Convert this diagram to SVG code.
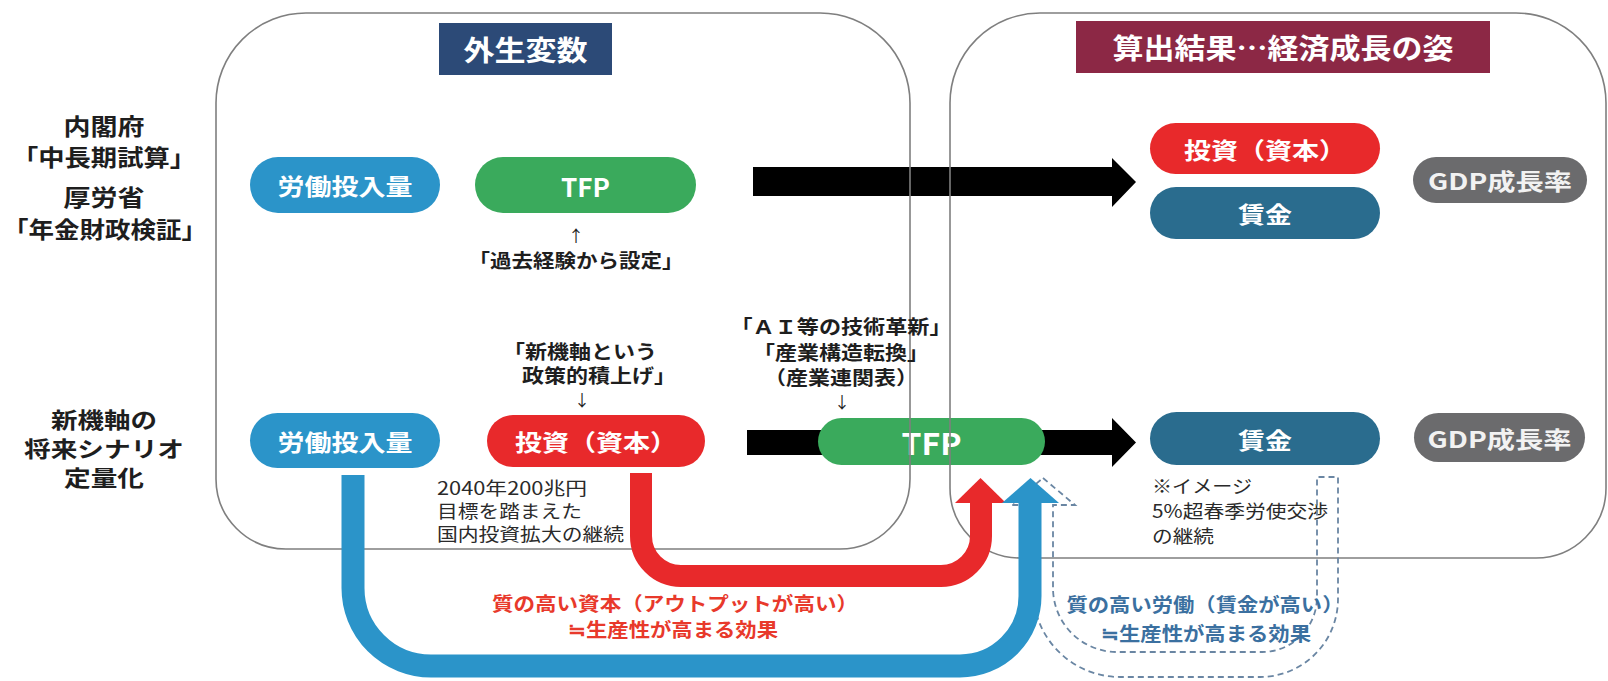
<svg xmlns="http://www.w3.org/2000/svg" width="1608" height="681" viewBox="0 0 1608 681">
<style>
text{font-family:"Noto Sans CJK JP","Noto Sans",sans-serif;dominant-baseline:central;text-anchor:middle}
.b{font-weight:700}
.lbl{font-size:23px;font-weight:700;fill:#1e1e1e}
.pill{font-size:23px;font-weight:700;fill:#fff}
.ann{font-size:19px;font-weight:700;fill:#1e1e1e}
.arr{font-size:16px;font-weight:400;fill:#1e1e1e}
.note{font-size:18px;font-weight:400;fill:#2a2a2a;text-anchor:start}
.cont{fill:none;stroke:#7f7f7f;stroke-width:1.6}
.lb{fill:#2b94c9}.gr{fill:#3aaa5c}.rd{fill:#e8292b}.tl{fill:#2a6c8e}.gy{fill:#6b6b6d}
</style>
<rect width="1608" height="681" fill="#fff"/>

<g id="left-labels">
<text class="lbl" x="104" y="125" textLength="81" lengthAdjust="spacingAndGlyphs">内閣府</text>
<text class="lbl" x="104" y="156" textLength="184" lengthAdjust="spacingAndGlyphs">「中長期試算」</text>
<text class="lbl" x="104" y="196" textLength="81" lengthAdjust="spacingAndGlyphs">厚労省</text>
<text class="lbl" x="105" y="228" textLength="204" lengthAdjust="spacingAndGlyphs">「年金財政検証」</text>
<text class="lbl" x="104" y="418" style="font-size:22px" textLength="106" lengthAdjust="spacingAndGlyphs">新機軸の</text>
<text class="lbl" x="104" y="447" style="font-size:22px" textLength="160" lengthAdjust="spacingAndGlyphs">将来シナリオ</text>
<text class="lbl" x="104" y="476" style="font-size:22px" textLength="80" lengthAdjust="spacingAndGlyphs">定量化</text>
</g>

<g id="connectors-black">
<polygon points="753,167 1112,167 1112,158 1136,182 1112,207 1112,196 753,196" fill="#000"/>
<polygon points="747,430 1112,430 1112,418 1136,442.5 1112,467 1112,455 747,455" fill="#000"/>
</g>

<g id="top-labour"><rect x="250" y="157" width="190" height="56" rx="28" class="lb"/><text class="pill" x="345" y="185" textLength="135" lengthAdjust="spacingAndGlyphs">労働投入量</text></g>
<g id="top-tfp"><rect x="475" y="157" width="221" height="56" rx="28" class="gr"/><text class="pill" x="585.5" y="185" style="font-size:26px" textLength="49" lengthAdjust="spacingAndGlyphs">TFP</text></g>
<g id="top-invest-r"><rect x="1150" y="123" width="230" height="51" rx="25.5" class="rd"/><text class="pill" x="1265" y="148.5" textLength="162" lengthAdjust="spacingAndGlyphs">投資（資本）</text></g>
<g id="top-wage"><rect x="1150" y="187" width="230" height="52" rx="26" class="tl"/><text class="pill" x="1265" y="213" textLength="54" lengthAdjust="spacingAndGlyphs">賃金</text></g>
<g id="top-gdp"><rect x="1413" y="157" width="174" height="46" rx="23" class="gy"/><text class="pill" x="1500" y="180" style="fill:#f2f2f2" textLength="144" lengthAdjust="spacingAndGlyphs">GDP成長率</text></g>

<g id="bot-labour"><rect x="250" y="413" width="190" height="55" rx="27.5" class="lb"/><text class="pill" x="345" y="440.5" textLength="135" lengthAdjust="spacingAndGlyphs">労働投入量</text></g>
<g id="bot-invest"><rect x="487" y="415" width="218" height="52" rx="26" class="rd"/><text class="pill" x="596" y="441" textLength="162" lengthAdjust="spacingAndGlyphs">投資（資本）</text></g>
<g id="bot-tfp"><rect x="818" y="418" width="227" height="47" rx="23.5" class="gr"/><text class="pill" x="931.5" y="441.5" style="font-size:30px" textLength="60" lengthAdjust="spacingAndGlyphs">TFP</text></g>
<g id="bot-wage"><rect x="1150" y="412" width="230" height="53" rx="26.5" class="tl"/><text class="pill" x="1265" y="438.5" textLength="54" lengthAdjust="spacingAndGlyphs">賃金</text></g>
<g id="bot-gdp"><rect x="1414" y="413" width="171" height="49" rx="24.5" class="gy"/><text class="pill" x="1499.5" y="437.5" style="fill:#f2f2f2" textLength="144" lengthAdjust="spacingAndGlyphs">GDP成長率</text></g>

<g id="containers">
<path class="cont" d="M306,13 H820 A90,90 0 0 1 910,103 V479 A70,70 0 0 1 840,549 H286 A70,70 0 0 1 216,479 V103 A90,90 0 0 1 306,13 Z"/>
<path class="cont" d="M1040,13 H1516 A90,90 0 0 1 1606,103 V488 A70,70 0 0 1 1536,558 H1020 A70,70 0 0 1 950,488 V103 A90,90 0 0 1 1040,13 Z"/>
</g>

<g id="header-exo"><rect x="439" y="23" width="173" height="52" fill="#2c4a77"/><text class="b" x="525.5" y="49" style="font-size:28px;fill:#fff" textLength="124" lengthAdjust="spacingAndGlyphs">外生変数</text></g>
<g id="header-result"><rect x="1076" y="21" width="414" height="52" fill="#8c2845"/><text class="b" x="1283" y="47" style="font-size:28px;fill:#fff" textLength="341" lengthAdjust="spacingAndGlyphs">算出結果…経済成長の姿</text></g>

<g id="annotations">
<text class="arr" x="576" y="235">↑</text>
<text class="ann" x="576" y="259" textLength="215" lengthAdjust="spacingAndGlyphs">「過去経験から設定」</text>
<text class="ann" x="503" y="350" style="text-anchor:start" textLength="154" lengthAdjust="spacingAndGlyphs">「新機軸という</text>
<text class="ann" x="522" y="374" style="text-anchor:start" textLength="154" lengthAdjust="spacingAndGlyphs">政策的積上げ」</text>
<text class="arr" x="582" y="399">↓</text>
<text class="ann" x="841" y="325" textLength="221" lengthAdjust="spacingAndGlyphs">「ＡＩ等の技術革新」</text>
<text class="ann" x="841" y="351" textLength="176" lengthAdjust="spacingAndGlyphs">「産業構造転換」</text>
<text class="ann" x="841" y="376" textLength="154" lengthAdjust="spacingAndGlyphs">（産業連関表）</text>
<text class="arr" x="842" y="401">↓</text>
<text class="note" x="437" y="487" textLength="150" lengthAdjust="spacingAndGlyphs">2040年200兆円</text>
<text class="note" x="437" y="510" textLength="145" lengthAdjust="spacingAndGlyphs">目標を踏まえた</text>
<text class="note" x="437" y="533" textLength="187" lengthAdjust="spacingAndGlyphs">国内投資拡大の継続</text>
<text class="note" x="1152" y="485" textLength="100" lengthAdjust="spacingAndGlyphs">※イメージ</text>
<text class="note" x="1152" y="510" textLength="176" lengthAdjust="spacingAndGlyphs">5%超春季労使交渉</text>
<text class="note" x="1152" y="535" textLength="62" lengthAdjust="spacingAndGlyphs">の継続</text>
</g>

<g id="connectors">
<path d="M1043,478 L1075,505 H1053 V588 A64,64 0 0 0 1117,652 H1262 A55,55 0 0 0 1317,597 V477 H1338 V599 A78,78 0 0 1 1260,677 H1120 A87,87 0 0 1 1033,590 V505 H1011 Z" fill="none" stroke="#6a86a3" stroke-width="1.8" stroke-dasharray="6 4"/>
<path d="M641,473 V536 A40,40 0 0 0 681,576 H941 A40,40 0 0 0 981,536 V500" fill="none" stroke="#e8292b" stroke-width="22"/>
<polygon points="955,503 1006,503 980.5,478" fill="#e8292b"/>
<path d="M353,475 V588 A78,78 0 0 0 431,666 H960 A70,70 0 0 0 1030,596 V500" fill="none" stroke="#2b94c9" stroke-width="23"/>
<polygon points="1002,503 1059,503 1030.5,478" fill="#2b94c9"/>
</g>

<g id="effect-labels">
<text class="b" x="675" y="602" style="font-size:19px;fill:#e8392b" textLength="366" lengthAdjust="spacingAndGlyphs">質の高い資本（アウトプットが高い）</text>
<text class="b" x="673" y="628" style="font-size:19px;fill:#e8392b" textLength="210" lengthAdjust="spacingAndGlyphs">≒生産性が高まる効果</text>
<text class="b" x="1205" y="603" style="font-size:19px;fill:#3b70a0" textLength="277" lengthAdjust="spacingAndGlyphs">質の高い労働（賃金が高い）</text>
<text class="b" x="1206" y="632" style="font-size:19px;fill:#3b70a0" textLength="210" lengthAdjust="spacingAndGlyphs">≒生産性が高まる効果</text>
</g>
</svg>
